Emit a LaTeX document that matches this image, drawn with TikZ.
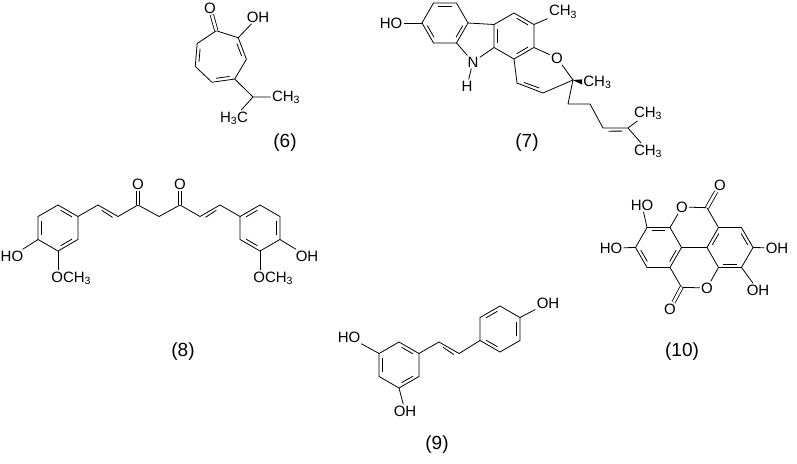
\documentclass[tikz,border=0pt]{standalone}
\usepackage{fontspec}
\setmainfont{Liberation Sans}
\usetikzlibrary{calc}
\tikzset{atom/.style={font=\fontsize{15}{15}\selectfont, inner sep=1pt},
  cpd/.style={font=\fontsize{19}{19}\selectfont},
  co/.style={double, double distance=2.6pt}}
% hexagon: name, centre, start angle
\newcommand\hexring[3]{%
  \coordinate (#1c) at (#2);
  \foreach \k in {1,...,6} \coordinate (#1\k) at ($(#2)+(#3+60*\k:23)$);
  \draw (#11)--(#12)--(#13)--(#14)--(#15)--(#16)--cycle;}
% inner line of a double bond, towards #3
\newcommand\inb[3]{%
  \path ($(#1)!.16!(#2)$) coordinate (tmpa) ($(#1)!.84!(#2)$) coordinate (tmpb);
  \draw ($(tmpa)!3.5pt!(#3)$) -- ($(tmpb)!3.5pt!(#3)$);}
\begin{document}
\begin{tikzpicture}[x=1pt,y=-1pt,line width=0.8pt]
 \useasboundingbox (0,0) rectangle (797,463);
 % (6)
 \coordinate (tc) at (220,57);
 \foreach \k in {1,...,7} \coordinate (t\k) at ($(tc)+(262+51.43*\k-51.43:26.5)$);
 \draw (t1)--(t2)--(t3)--(t4)--(t5)--(t6)--(t7)--cycle;
 \inb{t2}{t3}{tc} \inb{t4}{t5}{tc} \inb{t6}{t7}{tc}
 \node[atom] (o6) at (210,8) {O};
 \draw[co] (t1) -- (o6);
 \node[atom] (oh6) at (258,17) {OH};
 \draw (t2) -- (oh6);
 \coordinate (ip) at (253,97);
 \node[atom] (me6a) at (286,97) {CH\textsubscript{3}};
 \node[atom] (me6b) at (234,118) {H\textsubscript{3}C};
 \draw (t4) -- (ip) -- (me6a);
 \draw (ip) -- (me6b);
 \node[cpd] (lab6) at (285,143) {(6)};
 %
 % (7)
 \hexring{a}{445,23}{-60}
 \inb{a5}{a6}{ac} \inb{a1}{a2}{ac} \inb{a3}{a4}{ac}
 \hexring{b}{514,36}{210}
 \inb{b6}{b5}{bc} \inb{b1}{b2}{bc} \inb{b3}{b4}{bc}
 \node[atom] (n7) at (473,62) {N};
 \node[atom] (h7) at (467,86) {H};
 \draw (a1) -- (b6);
 \draw (a2) -- (n7) -- (b5);
 \draw (n7) -- (h7);
 \node[atom] (ho7) at (391,23) {HO};
 \draw (a4) -- (ho7);
 \node[atom] (me7a) at (563,12) {CH\textsubscript{3}};
 \draw (b2) -- (me7a);
 \node[atom] (o7) at (557,58) {O};
 \coordinate (cq) at (573,80);
 \coordinate (v1) at (543,93);
 \coordinate (v2) at (517,83);
 \coordinate (rcc) at (540,70);
 \draw (b3) -- (o7) -- (cq) -- (v1) -- (v2) -- (b4);
 \inb{v1}{v2}{rcc}
 \node[atom, anchor=west] (me7b) at (582,82) {CH\textsubscript{3}};
 \fill (cq) -- ($(me7b.west)+(0,2.6)$) -- ($(me7b.west)+(0,-2.6)$) -- cycle;
 \coordinate (s1) at (568,104);
 \coordinate (s2) at (590,104);
 \coordinate (s3) at (603,128);
 \coordinate (s4) at (628,128);
 \node[atom] (me7c) at (648,113) {CH\textsubscript{3}};
 \node[atom] (me7d) at (648,151) {CH\textsubscript{3}};
 \draw (cq) -- (s1) -- (s2) -- (s3) -- (s4) -- (me7c);
 \draw (s4) -- (me7d);
 \coordinate (s34) at (615,145);
 \inb{s3}{s4}{s34}
 \node[cpd] (lab7) at (527,143) {(7)};
 %
 % (8)
 \hexring{L}{58,228}{210}
 \inb{L6}{L5}{Lc} \inb{L1}{L2}{Lc} \inb{L3}{L4}{Lc}
 \hexring{R}{260,228}{210}
 \inb{R2}{R3}{Rc} \inb{R1}{R6}{Rc} \inb{R5}{R4}{Rc}
 \node[atom] (ho8) at (12,256) {HO};
 \draw (L5) -- (ho8);
 \node[atom] (oh8) at (307,256) {OH};
 \draw (R3) -- (oh8);
 \node[atom, anchor=west] (ome8a) at (50,278) {OCH\textsubscript{3}};
 \node[atom, anchor=west] (ome8b) at (252,278) {OCH\textsubscript{3}};
 \draw (L4) -- ($(ome8a.west)+(8,-8)$);
 \draw (R4) -- ($(ome8b.west)+(8,-8)$);
 \coordinate (c1) at (98,205);
 \coordinate (c2) at (118,216.5);
 \coordinate (c3) at (138,205);
 \coordinate (c4) at (159,216.5);
 \coordinate (c5) at (180,205);
 \coordinate (c6) at (200,216.5);
 \coordinate (c7) at (220,205);
 \draw (L2) -- (c1) -- (c2) -- (c3) -- (c4) -- (c5) -- (c6) -- (c7) -- (R6);
 \coordinate (c12) at (104,228);
 \coordinate (c67) at (214,228);
 \inb{c1}{c2}{c12} \inb{c6}{c7}{c67}
 \node[atom] (o8a) at (138,184) {O};
 \node[atom] (o8b) at (180,184) {O};
 \draw[co] (c3) -- (o8a);
 \draw[co] (c5) -- (o8b);
 \node[cpd] (lab8) at (183,352) {(8)};
 %
 % (9)
 \hexring{P}{399,365}{210}
 \inb{P6}{P5}{Pc} \inb{P1}{P2}{Pc} \inb{P3}{P4}{Pc}
 \hexring{Q}{500,329}{210}
 \inb{Q6}{Q1}{Qc} \inb{Q2}{Q3}{Qc} \inb{Q4}{Q5}{Qc}
 \node[atom] (ho9a) at (349,337) {HO};
 \draw (P6) -- (ho9a);
 \node[atom] (oh9a) at (405,411) {OH};
 \draw (P4) -- (oh9a);
 \node[atom] (oh9b) at (548,303) {OH};
 \draw (Q2) -- (oh9b);
 \coordinate (w1) at (439,342);
 \coordinate (w2) at (459,353.5);
 \coordinate (w12) at (447,364);
 \draw (P2) -- (w1) -- (w2) -- (Q5);
 \inb{w1}{w2}{w12}
 \node[cpd] (lab9) at (437,445) {(9)};
 %
 % (10)
 \hexring{E}{658.5,247.5}{-60}
 \inb{E5}{E6}{Ec} \inb{E1}{E2}{Ec} \inb{E3}{E4}{Ec}
 \hexring{F}{730,247.5}{-60}
 \inb{F4}{F5}{Fc} \inb{F6}{F1}{Fc} \inb{F2}{F3}{Fc}
 \draw (E1) -- (F4);
 \node[atom] (o10a) at (682,207) {O};
 \node[atom] (o10b) at (707,288) {O};
 \coordinate (k1) at (707,207.7);
 \coordinate (k2) at (681.5,287.3);
 \draw (E6) -- (o10a) -- (k1) -- (F5);
 \draw (E2) -- (k2) -- (o10b) -- (F3);
 \node[atom] (o10c) at (720,185) {O};
 \node[atom] (o10d) at (670,309) {O};
 \draw[co] (k1) -- (o10c);
 \draw[co] (k2) -- (o10d);
 \node[atom] (ho10a) at (642,205) {HO};
 \node[atom] (ho10b) at (611,248) {HO};
 \node[atom] (oh10a) at (777,248) {OH};
 \node[atom] (oh10b) at (758,290) {OH};
 \draw (E5) -- (ho10a);
 \draw (E4) -- (ho10b);
 \draw (F1) -- (oh10a);
 \draw (F2) -- (oh10b);
 \node[cpd] (lab10) at (682,352) {(10)};
\end{tikzpicture}
\end{document}
